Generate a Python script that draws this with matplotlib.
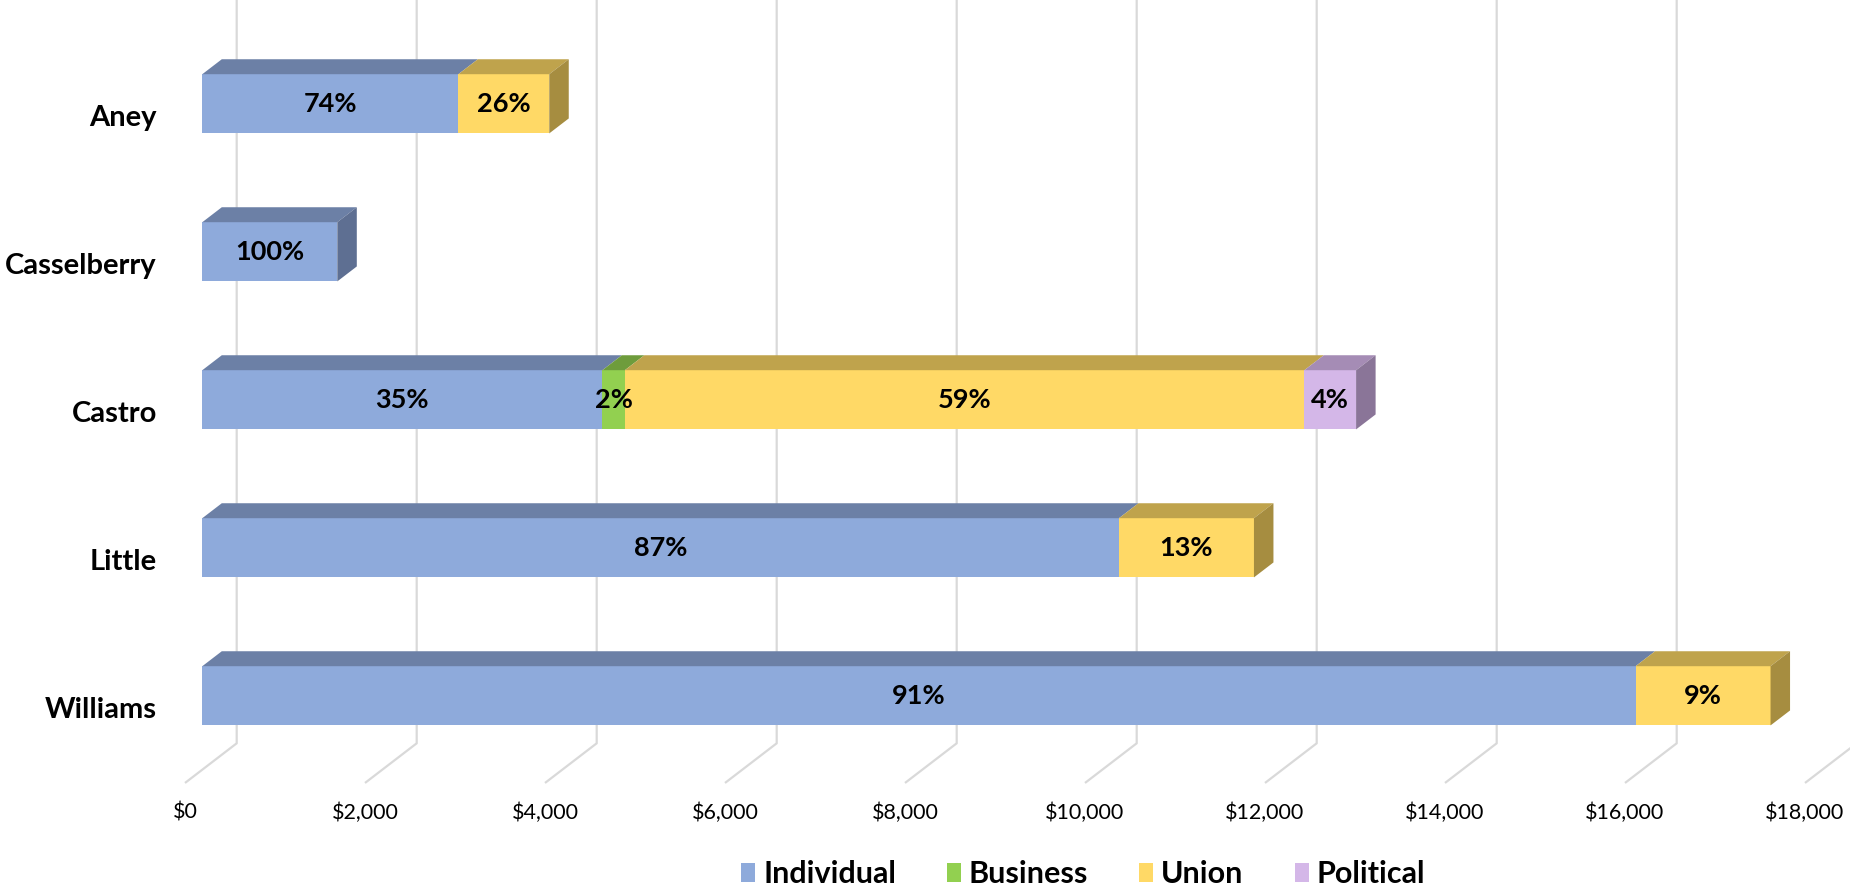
import numpy as np
import matplotlib.pyplot as plt
from matplotlib.patches import Polygon, Patch

plt.rcParams['font.family'] = ['Lato', 'DejaVu Sans']

candidates = ['Aney', 'Casselberry', 'Castro', 'Little', 'Williams']
sources = ['Individual', 'Business', 'Union', 'Political']
individual = [2845, 1500, 4445, 10185, 15925]
business = [0, 0, 250, 0, 0]
union = [1010, 0, 7550, 1500, 1500]
political = [0, 0, 575, 0, 0]
ticks = np.arange(0, 18001, 2000)

front_c = ['#8EAADB', '#92D050', '#FFD966', '#D4B7E8']
top_c = ['#6C80A6', '#6E9C3C', '#BFA34C', '#A58CB5']
side_c = ['#5E6F92', '#5F8834', '#A68D40', '#8A7598']

W, H = 1850, 888
fig = plt.figure(figsize=(W / 100, H / 100), dpi=100)
ax = fig.add_axes([0, 0, 1, 1])
ax.axis('off')

# front plane of the bars: $0 at x=202px, 0.09 px per dollar, rows 148px apart
px_per_usd = 0.09
x0_px = 202.3
row0_px, row_px = 103.8, 148.0
ax.set_xlim(-x0_px / px_per_usd, (W - x0_px) / px_per_usd)
ax.set_ylim((H - row0_px) / row_px, -row0_px / row_px)

def depth(px):
    # oblique depth offset, px along x -> (dollars, rows)
    return px / px_per_usd, -0.767 * px / row_px

bar_dx, bar_dy = depth(19.5)
wall_dx, wall_dy = depth(34.4)
floor_dx, floor_dy = depth(-17.3)
floor_back = (743.3 - row0_px) / row_px
ytop = ax.get_ylim()[1]
bh = 0.4

# back wall grid + floor lines
for t in ticks:
    ax.plot([t + wall_dx, t + wall_dx, t + floor_dx],
            [ytop, floor_back, floor_back - wall_dy + floor_dy],
            color='#D9D9D9', lw=1.6, zorder=1, solid_capstyle='butt')
    ax.text(t + floor_dx, floor_back - wall_dy + floor_dy + 0.2, f'${t:,.0f}',
            ha='center', va='center', fontsize=15.5, color='black')

vals = np.array([individual, business, union, political], dtype=float)
totals = vals.sum(axis=0)

for i, name in enumerate(candidates):
    left = 0.0
    last = max(k for k in range(len(sources)) if vals[k, i] > 0)
    for k in range(len(sources)):
        w = vals[k, i]
        if w <= 0:
            continue
        ax.barh(i, w, left=left, height=bh, color=front_c[k], lw=0, zorder=2)
        ytf = i - bh / 2
        ax.add_patch(Polygon([(left, ytf), (left + w, ytf),
                              (left + w + bar_dx, ytf + bar_dy), (left + bar_dx, ytf + bar_dy)],
                             closed=True, facecolor=top_c[k], lw=0, zorder=2))
        if k == last:
            r = left + w
            ax.add_patch(Polygon([(r, ytf), (r + bar_dx, ytf + bar_dy),
                                  (r + bar_dx, i + bh / 2 + bar_dy), (r, i + bh / 2)],
                                 closed=True, facecolor=side_c[k], lw=0, zorder=2))
        pct = round(w / totals[i] * 100)
        ax.text(left + w / 2, i, f'{pct}%', ha='center', va='center',
                fontsize=19.5, fontweight='bold', zorder=3)
        left += w
    ax.text((157 - x0_px) / px_per_usd, i + 0.095, name, ha='right', va='center',
            fontsize=21, fontweight='bold')

handles = [Patch(facecolor=c, lw=0) for c in front_c]
fig.legend(handles, sources, loc='center left', bbox_to_anchor=(741 / W, 1 - 874 / H),
           ncol=4, frameon=False, borderpad=0, borderaxespad=0,
           handlelength=0.46, handleheight=0.59, handletextpad=0.26, columnspacing=1.67,
           prop={'weight': 'bold', 'size': 22})

fig.savefig('out.png', dpi=100)
